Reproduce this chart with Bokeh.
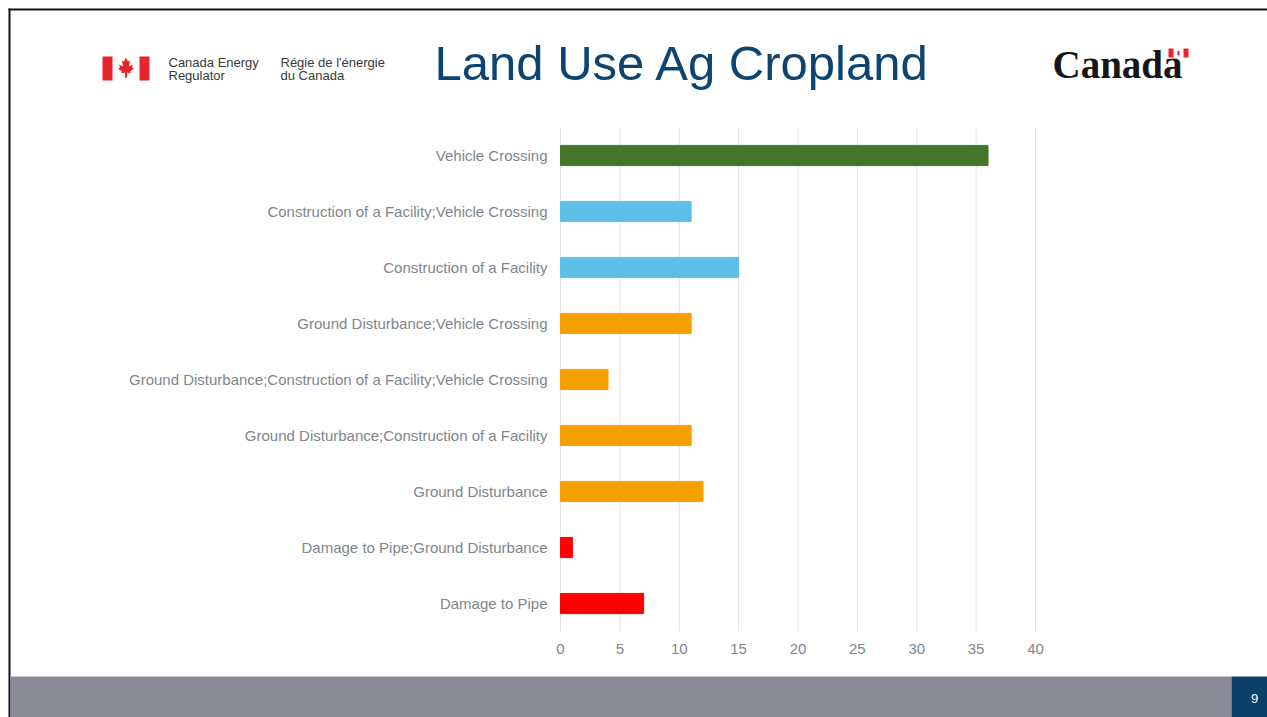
from bokeh.plotting import figure
from bokeh.models import (ColumnDataSource, Range1d, FixedTicker, LinearAxis)
from bokeh.core.properties import value
from bokeh.embed import file_html
from bokeh.resources import INLINE

# ---- data (top to bottom as shown) ----
categories = [
    "Vehicle Crossing",
    "Construction of a Facility;Vehicle Crossing",
    "Construction of a Facility",
    "Ground Disturbance;Vehicle Crossing",
    "Ground Disturbance;Construction of a Facility;Vehicle Crossing",
    "Ground Disturbance;Construction of a Facility",
    "Ground Disturbance",
    "Damage to Pipe;Ground Disturbance",
    "Damage to Pipe",
]
values = [36, 11, 15, 11, 4, 11, 12, 1, 7]
groups = ["vehicle", "facility", "facility", "ground", "ground", "ground",
          "ground", "pipe", "pipe"]
x_ticks = [0, 5, 10, 15, 20, 25, 30, 35, 40]
title_text = "Land Use Ag Cropland"
page_number = "9"

group_colors = {"vehicle": "#43752b", "facility": "#5fbee6",
                "ground": "#f5a000", "pipe": "#ff0000"}

# ---- layout (canvas px) ----
W, H = 1267, 717
CH_L, CH_R, CH_T, CH_B = 560, 1035, 127, 631    # chart area
X_MAX = 40
n = len(categories)
px_per_val = (CH_R - CH_L) / X_MAX
px_per_row = (CH_B - CH_T) / n
row0_px = CH_B - px_per_row / 2          # pixel of bottom row centre

p = figure(width=W, height=H, output_backend="svg", toolbar_location=None,
           x_range=Range1d(0, W), y_range=Range1d(H, 0),
           x_axis_location=None, y_axis_location=None,
           min_border=0, min_border_left=0, min_border_right=0,
           min_border_top=0, min_border_bottom=0)
p.outline_line_color = None
p.grid.visible = False
p.background_fill_color = "white"
p.border_fill_color = "white"

p.extra_x_ranges = {"val": Range1d(-CH_L / px_per_val, (W - CH_L) / px_per_val)}
p.extra_y_ranges = {"row": Range1d((row0_px - H) / px_per_row, row0_px / px_per_row)}

rows = [n - 1 - i for i in range(n)]
src = ColumnDataSource(dict(row=rows, val=values,
                            color=[group_colors[g] for g in groups]))

# grid lines
p.segment(x0=x_ticks, x1=x_ticks, y0=-0.5, y1=n - 0.5, line_color="#e2e2e2",
          line_width=1, x_range_name="val", y_range_name="row")
# bars
p.hbar(y="row", right="val", left=0, height=0.36, color="color", source=src,
       x_range_name="val", y_range_name="row")

# axes
xaxis = LinearAxis(x_range_name="val", fixed_location=CH_B,
                   ticker=FixedTicker(ticks=x_ticks))
yaxis = LinearAxis(y_range_name="row", fixed_location=CH_L,
                   ticker=FixedTicker(ticks=rows),
                   major_label_overrides={r: c for r, c in zip(rows, categories)})
for ax in (xaxis, yaxis):
    ax.axis_line_color = None
    ax.major_tick_line_color = None
    ax.minor_tick_line_color = None
    ax.major_tick_out = 0
    ax.major_tick_in = 0
    ax.minor_tick_out = 0
    ax.major_label_text_color = "#80868b"
    ax.major_label_text_font = "Liberation Sans"
    ax.major_label_text_font_size = "15px"
yaxis.major_label_standoff = 13
xaxis.major_label_standoff = 12
p.add_layout(xaxis, "below")
p.add_layout(yaxis, "left")

# ---- slide decorations (canvas px, y from top) ----
def box(x0, y0, x1, y1, color):
    p.quad(left=x0, right=x1, top=y0, bottom=y1, fill_color=color,
           line_color=None)

def label(x, y, text, size, color, font="Liberation Sans", align="left",
          baseline="middle", style="normal"):
    p.text(x=[x], y=[y], text=[text], text_font=value(font),
           text_font_size=value(size), text_color=color, text_align=align,
           text_baseline=baseline, text_font_style=style)

# border lines
box(8, 8, 10, 717, "#111111")
box(8, 8, 1267, 10, "#111111")
# footer
box(10, 676, 1231, 717, "#8b8b95")
box(1231, 676, 1267, 717, "#0b4069")
label(1254, 698, page_number, "13px", "white", align="center")

# CER logo flag
box(102, 56, 112, 80, "#e8252d")
box(139, 56, 149, 80, "#e8252d")
leaf = [(0, -10), (2, -6), (4, -7), (3, -1), (7, -3), (6, 0), (8, 1), (4, 4),
        (5, 6), (1, 5), (1, 10), (-1, 10), (-1, 5), (-5, 6), (-4, 4), (-8, 1),
        (-6, 0), (-7, -3), (-3, -1), (-4, -7), (-2, -6)]
p.patch(x=[125.5 + a for a, b in leaf], y=[67 + b for a, b in leaf],
        fill_color="#e8252d", line_color=None)
label(168, 62, "Canada Energy", "13px", "#3a3a3a")
label(168, 75, "Regulator", "13px", "#3a3a3a")
label(280, 62, "Régie de l'énergie", "13px", "#3a3a3a")
label(280, 75, "du Canada", "13px", "#3a3a3a")

# title
label(682, 62, title_text, "49px", "#0d4470", align="center")

# Canada wordmark
label(1052, 64, "Canada", "39px", "#161616", font="Liberation Serif",
      style="bold")
box(1168, 48, 1173, 57, "#e8252d")
box(1183, 48, 1188, 57, "#e8252d")
box(1177, 50.5, 1179, 55, "#e8252d")

open("out.html", "w").write(file_html(p, INLINE))
